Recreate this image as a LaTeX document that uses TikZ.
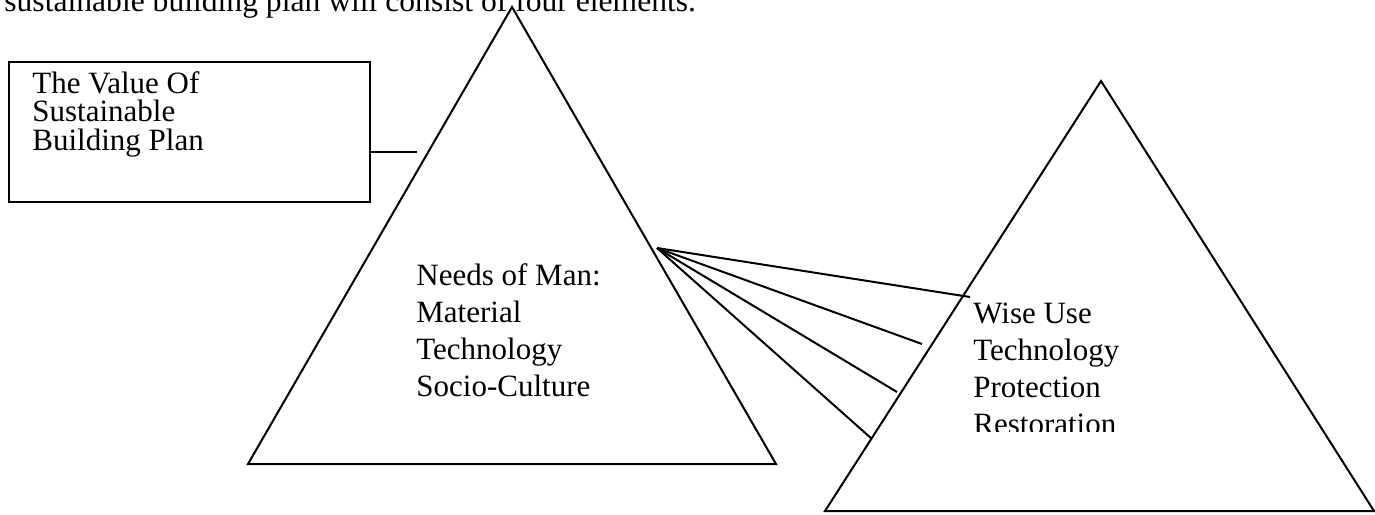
\documentclass[tikz,border=0pt]{standalone}
\usepackage{fontspec}
\setmainfont{Liberation Serif}
\begin{document}
\begin{tikzpicture}[x=0.5pt,y=-0.5pt,
  ln/.style={line width=1pt, line join=miter},
  txt/.style={anchor=base west, inner sep=0pt, font=\fontsize{15.5}{18}\selectfont}]
\useasboundingbox (0,0) rectangle (1375,514);
% top (clipped) sentence
\node[txt, font=\fontsize{15.8}{18}\selectfont] (top) at (4,11) {sustainable building plan will consist of four elements.};
% box
\node[ln, draw, anchor=north west, minimum width=180.5pt, minimum height=70pt, inner sep=0pt] (box) at (8,61) {};
\node[txt] (b1) at (32,93) {The Value Of};
\node[txt] (b2) at (32,121.5) {Sustainable};
\node[txt] (b3) at (32,150) {Building Plan};
\coordinate (tip) at (417,152);
\draw[ln] (box.east |- tip) -- (tip);
% left triangle
\coordinate (LA) at (512,7);
\coordinate (LL) at (248,464);
\coordinate (LR) at (776,464);
\draw[ln] (LA) -- (LL) -- (LR) -- cycle;
\node[txt] (l1) at (416,285) {Needs of Man:};
\node[txt] (l2) at (416,322) {Material};
\node[txt] (l3) at (416,359) {Technology};
\node[txt] (l4) at (416,396) {Socio-Culture};
% right triangle
\coordinate (RA) at (1101,81);
\coordinate (RL) at (825,511);
\coordinate (RR) at (1374,511);
\draw[ln] (RA) -- (RL) -- (RR) -- cycle;
\node[txt] (r1) at (973,323) {Wise Use};
\node[txt] (r2) at (973,360) {Technology};
\node[txt] (r3) at (973,397) {Protection};
\begin{scope}
\clip (960,400) rectangle (1200,431);
\node[txt] (r4) at (973,434) {Restoration};
\end{scope}
% fan connectors
\coordinate (F) at (657,248);
\coordinate (E1) at (970,297);
\coordinate (E2) at (922,344);
\coordinate (E3) at (897,392);
\coordinate (E4) at (872,439);
\draw[ln] (F) -- (E1);
\draw[ln] (F) -- (E2);
\draw[ln] (F) -- (E3);
\draw[ln] (F) -- (E4);
\end{tikzpicture}
\end{document}
